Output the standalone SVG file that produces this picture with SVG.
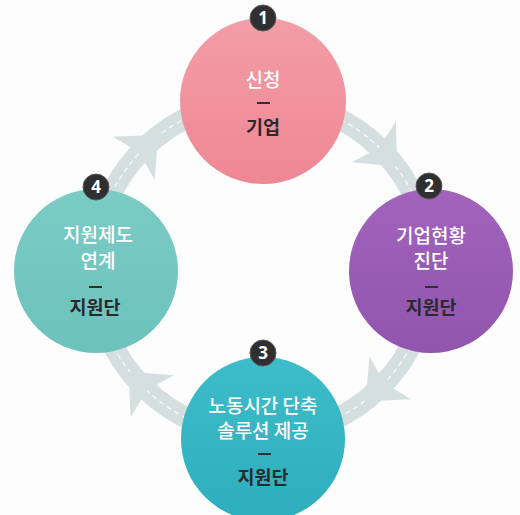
<svg xmlns="http://www.w3.org/2000/svg" width="520" height="515" viewBox="0 0 520 515">
<style>
.t{font-family:"Noto Sans CJK KR","Noto Sans",sans-serif;text-anchor:middle}
.w{fill:#ffffff;font-weight:500;font-size:19px}
.d{fill:#2a2a2e;font-weight:700;font-size:18.5px}
.dash{stroke:#2e2e34;stroke-width:2}
.badge circle{fill:#2f2f31;stroke:#5a5a5c;stroke-width:1}
.badge text{font-family:"Noto Sans","DejaVu Sans",sans-serif;font-size:17px;font-weight:700;fill:#fff;text-anchor:middle}
.band{fill:none;stroke:#d5dfe0;stroke-width:21}
.lane{fill:none;stroke:#ffffff;stroke-width:1.2;stroke-dasharray:5 4;opacity:.9}
.head{fill:#d5dfe0}
</style>
<defs>
<linearGradient id="gp" x1="0" y1="0" x2="0" y2="1"><stop offset="0" stop-color="#f39da6"/><stop offset="1" stop-color="#ee8794"/></linearGradient>
<linearGradient id="gv" x1="0" y1="0" x2="0" y2="1"><stop offset="0" stop-color="#a263bb"/><stop offset="1" stop-color="#9055ad"/></linearGradient>
<linearGradient id="gb" x1="0" y1="0" x2="0" y2="1"><stop offset="0" stop-color="#3dbcc9"/><stop offset="1" stop-color="#2eaebd"/></linearGradient>
<linearGradient id="gt" x1="0" y1="0" x2="0" y2="1"><stop offset="0" stop-color="#7ccbc5"/><stop offset="1" stop-color="#6cc2bc"/></linearGradient>
<path id="ah" d="M-16,-30 L18,0 L-16,30 L-8,0 Z"/>
</defs>
<rect width="520" height="515" fill="#fdfdfd"/>
<g id="connectors">
<circle class="band" cx="262" cy="268" r="168"/>
<circle class="lane" cx="262" cy="268" r="168"/>
<use href="#ah" class="head" transform="translate(262,268) rotate(-43) translate(168,0) rotate(90)"/>
<use href="#ah" class="head" transform="translate(262,268) rotate(46) translate(168,0) rotate(90)"/>
<use href="#ah" class="head" transform="translate(262,268) rotate(136) translate(168,0) rotate(90)"/>
<use href="#ah" class="head" transform="translate(262,268) rotate(-134) translate(168,0) rotate(90)"/>
</g>
<g id="node1">
<circle cx="263" cy="101" r="83" fill="url(#gp)"/>
<text class="t w" x="263" y="87">신청</text>
<line class="dash" x1="257" y1="103" x2="270" y2="103"/>
<text class="t d" x="263" y="134">기업</text>
<g class="badge"><circle cx="263" cy="18" r="13"/><text x="263" y="24">1</text></g>
</g>
<g id="node2">
<circle cx="431" cy="271" r="82" fill="url(#gv)"/>
<text class="t w" x="431" y="243">기업현황</text>
<text class="t w" x="431" y="268">진단</text>
<line class="dash" x1="425" y1="287" x2="438" y2="287"/>
<text class="t d" x="431" y="314">지원단</text>
<g class="badge"><circle cx="429" cy="186" r="13"/><text x="429" y="192">2</text></g>
</g>
<g id="node3">
<circle cx="263" cy="439" r="82" fill="url(#gb)"/>
<text class="t w" x="263" y="413">노동시간 단축</text>
<text class="t w" x="263" y="438">솔루션 제공</text>
<line class="dash" x1="258" y1="454" x2="271" y2="454"/>
<text class="t d" x="263" y="484">지원단</text>
<g class="badge"><circle cx="263" cy="353" r="13"/><text x="263" y="359">3</text></g>
</g>
<g id="node4">
<circle cx="96" cy="271" r="82" fill="url(#gt)"/>
<text class="t w" x="98" y="242">지원제도</text>
<text class="t w" x="98" y="268">연계</text>
<line class="dash" x1="89" y1="287" x2="102" y2="287"/>
<text class="t d" x="95" y="314">지원단</text>
<g class="badge"><circle cx="96" cy="187" r="13"/><text x="96" y="193">4</text></g>
</g>
</svg>
